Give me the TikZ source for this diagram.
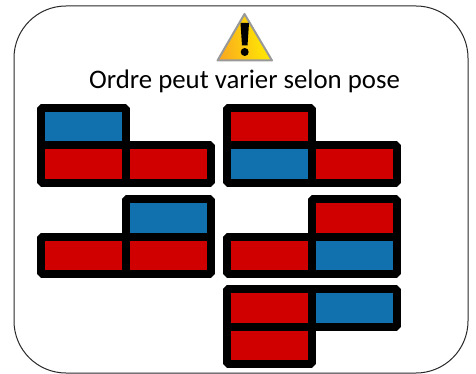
\documentclass[tikz,border=0pt]{standalone}
\usepackage{fontspec}
\setmainfont{Carlito}
\definecolor{cellred}{RGB}{209,0,0}
\definecolor{cellblue}{RGB}{17,112,174}
\definecolor{frameg}{RGB}{40,40,40}
\definecolor{warnL}{RGB}{250,170,30}
\definecolor{warnR}{RGB}{255,240,0}
\tikzset{
  x=1pt,y=-1pt,
  cell/.style={draw=black,line width=8pt,line join=bevel,rectangle,minimum width=85pt,minimum height=37.5pt,inner sep=0pt,anchor=center,outer sep=0pt},
  redcell/.style={cell,fill=cellred},
  bluecell/.style={cell,fill=cellblue},
  frame/.style={draw=frameg,line width=1pt,rounded corners=52pt,fill=white},
  caption/.style={font=\fontsize{26.8}{30}\selectfont,text=black,inner sep=0pt}
}
\begin{document}
\begin{tikzpicture}
\useasboundingbox (0,0) rectangle (476,374);
\fill[white] (0,0) rectangle (476,374);
\draw[frame] (14,6) rectangle (468,373);
% warning icon
\draw[line width=2pt,line join=round,draw=gray!80,left color=warnL,right color=warnR,shading angle=100] (244.5,14) -- (272,60.5) -- (217.5,60.5) -- cycle;
\fill[black] (240.5,23) -- (249,23) -- (247.5,45.5) -- (242,45.5) -- cycle;
\fill[black] (244.7,52) circle (4);
\node[caption] (cap) at (244.5,81.5) {Ordre peut varier selon pose};
% block 1
\node[bluecell] (a1) at (83.5,126.75) {};
\node[redcell] (a2) at (83.5,164.25) {};
\node[redcell] (a3) at (168.5,164.25) {};
% block 2
\node[redcell] (b1) at (269,126.75) {};
\node[bluecell] (b2) at (269,164.25) {};
\node[redcell] (b3) at (354,164.25) {};
% block 3
\node[bluecell] (c1) at (168.5,217.75) {};
\node[redcell] (c2) at (83.5,255.25) {};
\node[redcell] (c3) at (168.5,255.25) {};
% block 4
\node[redcell] (d1) at (354,217.75) {};
\node[redcell] (d2) at (269,255.25) {};
\node[bluecell] (d3) at (354,255.25) {};
% block 5
\node[redcell] (e1) at (269,307.75) {};
\node[bluecell] (e2) at (354,307.75) {};
\node[redcell] (e3) at (269,345.25) {};
\end{tikzpicture}
\end{document}
